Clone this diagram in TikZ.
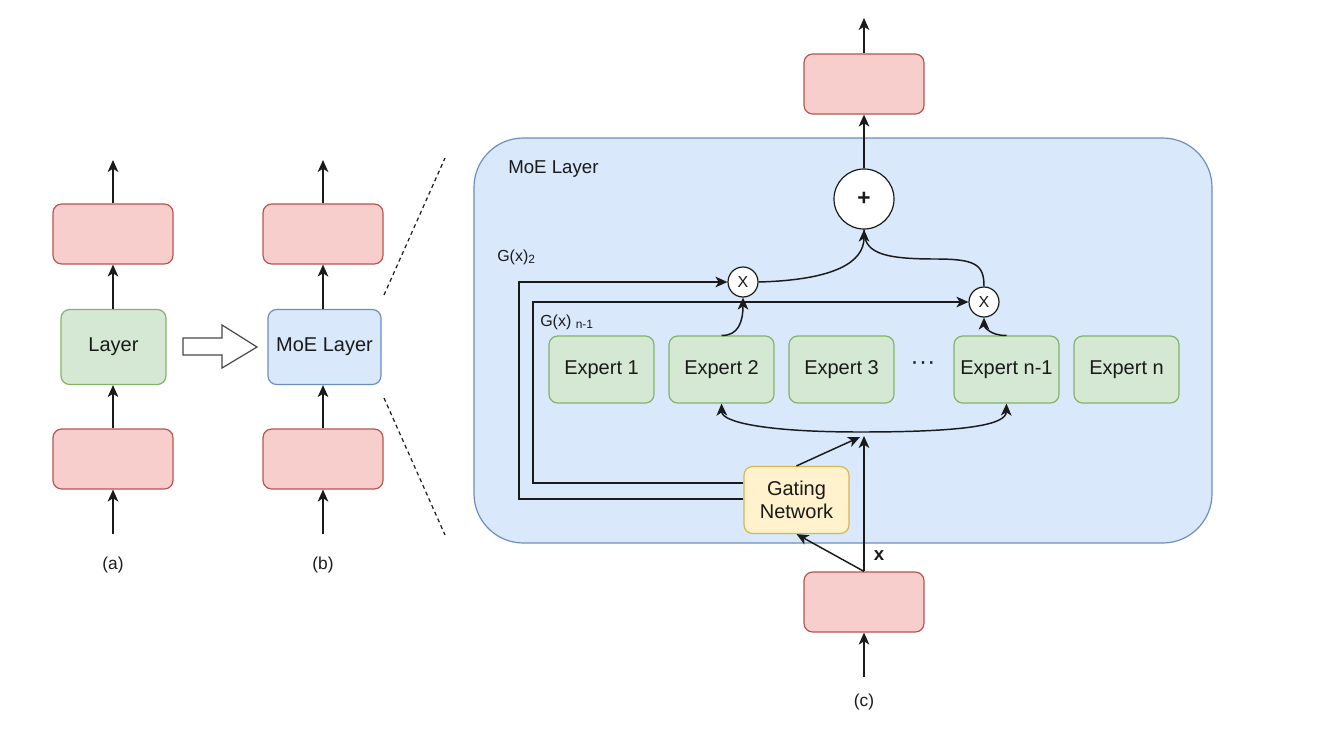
\documentclass[tikz,border=0pt]{standalone}
\usepackage{fontspec}
\setmainfont{Liberation Sans}
\usetikzlibrary{arrows.meta}
\definecolor{redF}{HTML}{F8CECC}\definecolor{redS}{HTML}{B85450}
\definecolor{grnF}{HTML}{D5E8D4}\definecolor{grnS}{HTML}{82B366}
\definecolor{bluF}{HTML}{DAE8FC}\definecolor{bluS}{HTML}{6C8EBF}
\definecolor{ylwF}{HTML}{FFF2CC}\definecolor{ylwS}{HTML}{D6B656}
\definecolor{ink}{HTML}{1A1A1A}
\tikzset{
  box/.style={rounded corners=6.5pt, line width=0.9pt, inner sep=0pt, align=center, font=\fontsize{15}{17}\selectfont, text=ink},
  redbox/.style={box, fill=redF, draw=redS, minimum width=90pt, minimum height=45pt},
  grnbox/.style={box, fill=grnF, draw=grnS},
  expbox/.style={grnbox, minimum width=78.75pt, minimum height=50.25pt},
  circ/.style={circle, draw=ink, fill=white, line width=0.9pt, inner sep=0pt, text=ink},
  arr/.style={draw=ink, line width=1.1pt, -{Stealth[length=9pt,width=8pt,inset=2.5pt]}},
  ln/.style={draw=ink, line width=1.1pt},
  lbl/.style={font=\fontsize{13}{15}\selectfont, text=ink, inner sep=0pt},
}
\begin{document}
\begin{tikzpicture}[x=0.75pt,y=-0.75pt]
\useasboundingbox (0,0) rectangle (1328,742);
% (a)
\node[redbox] (atop) at (113,234) {};
\node[grnbox, minimum width=78.75pt, minimum height=56.25pt] (alayer) at (113.5,347) {Layer};
\node[redbox] (abot) at (113,459) {};
\coordinate (aout) at (113,160);
\coordinate (ain) at (113,534);
\draw[arr] (ain) -- (abot.south);
\draw[arr] (abot.north) -- (alayer.south -| abot.north);
\draw[arr] (alayer.north -| atop.south) -- (atop.south);
\draw[arr] (atop.north) -- (aout);
\node[lbl] (alab) at (113,565) {(a)};
% hollow arrow
\draw[line width=0.9pt, draw=ink!80, fill=white] (183,338) -- (222,338) -- (222,325) -- (257,347) -- (222,368) -- (222,355) -- (183,355) -- cycle;
% (b)
\node[redbox] (btop) at (323,234) {};
\node[box, fill=bluF, draw=bluS, minimum width=84.75pt, minimum height=56.25pt] (bmoe) at (324.5,347) {MoE Layer};
\node[redbox] (bbot) at (323,459) {};
\coordinate (bout) at (323,160);
\coordinate (bin) at (323,534);
\draw[arr] (bin) -- (bbot.south);
\draw[arr] (bbot.north) -- (bmoe.south -| bbot.north);
\draw[arr] (bmoe.north -| btop.south) -- (btop.south);
\draw[arr] (btop.north) -- (bout);
\node[lbl] (blab) at (323,565) {(b)};
% dashed zoom lines
\draw[ink, line width=0.9pt, dash pattern=on 3pt off 2.5pt] (384,295) -- (445,158);
\draw[ink, line width=0.9pt, dash pattern=on 3pt off 2.5pt] (384,398) -- (445,535);
% big MoE box
\draw[fill=bluF, draw=bluS, line width=0.9pt, rounded corners=37pt] (474,138) rectangle (1212,543);
\node[lbl, anchor=west, font=\fontsize{14}{16}\selectfont] (moelab) at (508,169) {MoE Layer};
% (c)
\node[redbox] (ctop) at (864,84) {};
\node[circ, minimum size=45pt, font=\fontsize{17}{19}\selectfont\bfseries] (plus) at (864,199) {+};
\node[redbox] (cbot) at (864,602) {};
\coordinate (cout) at (864,18);
\coordinate (cin) at (864,677);
\draw[arr] (cin) -- (cbot.south);
\draw[arr] (plus.north) -- (ctop.south);
\draw[arr] (ctop.north) -- (cout);
\node[lbl] (clab) at (864,702) {(c)};
% experts
\node[expbox] (e1) at (601.5,369.5) {Expert 1};
\node[expbox] (e2) at (721.5,369.5) {Expert 2};
\node[expbox] (e3) at (841.5,369.5) {Expert 3};
\node[lbl, font=\fontsize{18}{20}\selectfont] (dots) at (923,366) {\symbol{"B7}\kern0.02em\symbol{"B7}\kern0.02em\symbol{"B7}};
\node[expbox] (en1) at (1006.5,369.5) {Expert n-1};
\node[expbox] (en) at (1126.5,369.5) {Expert n};
% gating
\node[box, fill=ylwF, draw=ylwS, minimum width=78.75pt, minimum height=50.25pt] (gate) at (796.5,500) {Gating\\Network};
% multipliers
\node[circ, minimum size=22.5pt, font=\fontsize{12}{14}\selectfont] (x1) at (743,282) {X};
\node[circ, minimum size=22.5pt, font=\fontsize{12}{14}\selectfont] (x2) at (984,302) {X};
% input
\coordinate (hub) at (864,436);
\coordinate (g2corner) at (519,499);
\coordinate (gncorner) at (533,483);
\draw[arr] (cbot.north) -- (hub);
\draw[arr] (cbot.north) -- (gate.south);
\draw[arr] (gate.north) -- (860,437);
\node[lbl, font=\fontsize{14}{16}\selectfont\bfseries] (xlab) at (879,556) {x};
\draw[arr] (860,432) .. controls (765,432) and (722,422) .. (e2.south);
\draw[arr] (860,432) .. controls (965,432) and (1006,425) .. (en1.south);
% gate outputs
\draw[arr] (gate.west |- g2corner) -- (g2corner) |- (x1.west);
\draw[arr] (gate.west |- gncorner) -- (gncorner) |- (x2.west);
\node[lbl, anchor=west, font=\fontsize{12}{14}\selectfont] (g2lab) at (497,257) {G(x)\raisebox{-0.25ex}{\fontsize{9}{10}\selectfont 2}};
\node[lbl, anchor=west, font=\fontsize{12}{14}\selectfont] (gnlab) at (540,322) {G(x) \raisebox{-0.25ex}{\fontsize{9}{10}\selectfont n-1}};
% expert outputs
\draw[arr] (e2.north) .. controls (738,336) and (743,322) .. (x1.south);
\draw[arr] (en1.north) .. controls (990,336) and (984,326) .. (x2.south);
% to plus
\draw[arr] (x1.east) .. controls (835,280) and (864,262) .. (plus.south);
\draw[ln] (x2.north) .. controls (984,264) and (975,259) .. (935,259) .. controls (880,259) and (864,252) .. (plus.south);
\end{tikzpicture}
\end{document}
